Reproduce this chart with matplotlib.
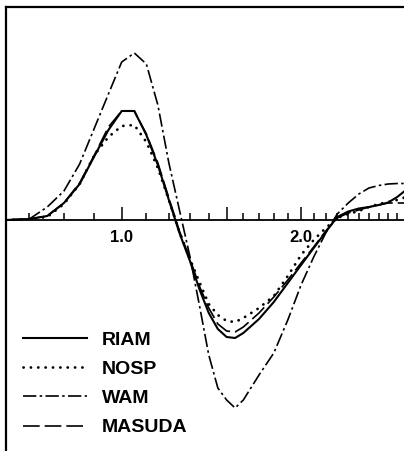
import matplotlib
matplotlib.use("Agg")
import matplotlib.pyplot as plt
from matplotlib.ticker import FixedLocator, FixedFormatter

# ---- data ----
freq = [0.64, 0.70, 0.75, 0.80, 0.85, 0.90, 0.95, 1.00, 1.05, 1.10, 1.15, 1.20,
        1.25, 1.30, 1.35, 1.40, 1.45, 1.50, 1.55, 1.60, 1.70, 1.80, 1.90, 2.00,
        2.10, 2.20, 2.30, 2.40, 2.50, 2.60, 2.70, 2.80, 2.90, 3.00]

riam = [0.00, 0.01, 0.04, 0.17, 0.36, 0.64, 0.90, 1.09, 1.09, 0.85, 0.55, 0.20,
        -0.13, -0.40, -0.69, -0.93, -1.09, -1.17, -1.18, -1.13, -0.99, -0.82, -0.63, -0.45,
        -0.28, -0.12, 0.03, 0.085, 0.115, 0.13, 0.15, 0.175, 0.23, 0.30]

nosp = [0.00, 0.01, 0.03, 0.16, 0.36, 0.65, 0.83, 0.94, 0.95, 0.78, 0.52, 0.20,
        -0.12, -0.38, -0.62, -0.84, -0.95, -1.01, -1.02, -0.98, -0.88, -0.76, -0.56, -0.35,
        -0.20, -0.08, 0.02, 0.06, 0.09, 0.13, 0.16, 0.18, 0.20, 0.23]

wam = [0.00, 0.01, 0.13, 0.29, 0.56, 0.92, 1.26, 1.58, 1.67, 1.56, 1.15, 0.57,
       0.10, -0.35, -0.85, -1.35, -1.68, -1.80, -1.88, -1.80, -1.55, -1.33, -1.00, -0.65,
       -0.37, -0.13, 0.06, 0.17, 0.26, 0.32, 0.345, 0.36, 0.365, 0.365]

masuda = [0.00, 0.01, 0.04, 0.17, 0.37, 0.65, 0.93, 1.09, 1.09, 0.86, 0.57, 0.22,
          -0.11, -0.38, -0.66, -0.88, -1.04, -1.11, -1.12, -1.07, -0.93, -0.77, -0.60, -0.43,
          -0.27, -0.11, 0.02, 0.07, 0.10, 0.13, 0.15, 0.17, 0.17, 0.17]

major_ticks = [1.0, 1.5, 2.0]
major_labels = ["1.0", "", "2.0"]
minor_ticks = [0.7, 0.8, 0.9, 1.1, 1.2, 1.3, 1.4, 1.6, 1.7, 1.8, 1.9,
               2.1, 2.2, 2.3, 2.4, 2.5, 2.6, 2.7, 2.8, 2.9]

series_names = ["RIAM", "NOSP", "WAM", "MASUDA"]

# ---- figure ----
W, H = 404, 451
fig = plt.figure(figsize=(W / 100, H / 100), dpi=100)
fig.patch.set_facecolor("white")
ax = fig.add_axes([6 / W, 0, (W - 6) / W, (H - 7) / H])

ax.set_xscale("log")
ax.set_xlim(0.6395, 2.977)
ax.set_ylim(-2.31, 2.13)

styles = [
    dict(linestyle="-", linewidth=1.5),
    dict(linestyle=(0, (0.05, 2.6)), linewidth=2.0, dash_capstyle="round"),
    dict(linestyle=(0, (8, 2, 1.5, 2)), linewidth=1.2),
    dict(linestyle=(0, (10, 3)), linewidth=1.2),
]
for name, ys, st in zip(series_names, [riam, nosp, wam, masuda], styles):
    ax.plot(freq, ys, color="black", label=name, **st)

# spines
ax.spines["right"].set_visible(False)
ax.spines["left"].set_linewidth(1.6)
ax.spines["top"].set_linewidth(1.6)
ax.spines["bottom"].set_position(("data", 0))
ax.spines["bottom"].set_linewidth(1.3)

ax.xaxis.set_major_locator(FixedLocator(major_ticks))
ax.xaxis.set_major_formatter(FixedFormatter(major_labels))
ax.xaxis.set_minor_locator(FixedLocator(minor_ticks))
ax.xaxis.set_minor_formatter(FixedFormatter([""] * len(minor_ticks)))
ax.tick_params(axis="x", which="major", direction="in", length=9.5, width=1.1,
               pad=7, labelsize=12)
ax.tick_params(axis="x", which="minor", direction="in", length=5, width=1.1)
for lab in ax.get_xticklabels():
    lab.set_fontfamily("Liberation Sans")
    lab.set_fontweight("bold")
ax.yaxis.set_visible(False)

leg = ax.legend(loc="upper left", bbox_to_anchor=(23 / W, 1 - 331 / H),
                bbox_transform=fig.transFigure, frameon=False,
                handlelength=3.3, handletextpad=0.75, labelspacing=0.6,
                borderpad=0, borderaxespad=0,
                prop=dict(family="Liberation Sans", weight="bold", size=14))

fig.savefig("out.png", dpi=100, facecolor="white")
